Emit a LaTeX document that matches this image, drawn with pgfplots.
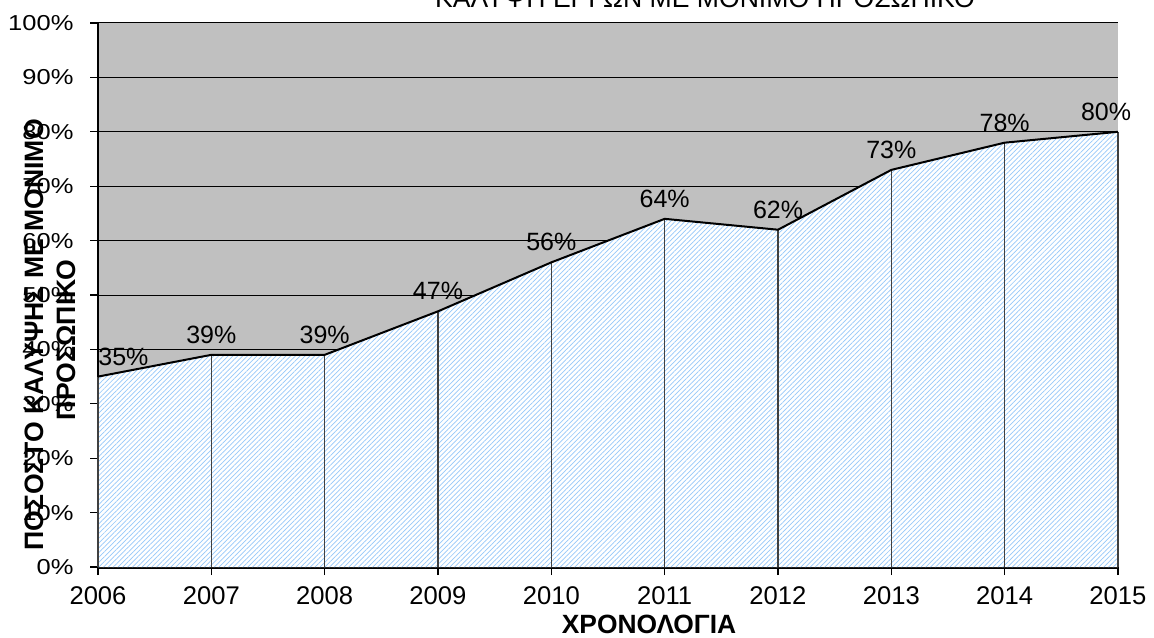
\documentclass[border=0pt]{standalone}
\usepackage{pgfplots}
\pgfplotsset{compat=1.18}
\usepackage{fontspec}
\setmainfont{Liberation Sans}
\usetikzlibrary{patterns.meta}
\definecolor{bggray}{RGB}{192,192,192}
\definecolor{hatch}{RGB}{150,200,250}
\begin{document}
\begin{tikzpicture}
\begin{axis}[
  name=ax, at={(0,0)}, anchor=south west,
  scale only axis, width=510pt, height=272pt,
  xmin=2006, xmax=2015, ymin=0, ymax=100,
  xtick={2006,...,2015}, ytick={0,10,...,100},
  /pgf/number format/assume math mode=true,
  /pgf/number format/1000 sep={},
  yticklabel={\pgfmathprintnumber{\tick}\%},
  xticklabel style={font=\fontsize{12.8}{14}\selectfont, yshift=-2.5pt},
  yticklabel style={font=\fontsize{10.8}{12}\selectfont, xscale=1.18, xshift=-3.5pt},
  tick align=outside, major tick length=4pt,
  tick style={black, line width=0.6pt},
  axis background/.style={fill=bggray},
  ymajorgrids, grid style={black, line width=0.5pt},
  axis x line*=bottom, axis y line*=left,
  x axis line style={line width=1.5pt, -},
  y axis line style={line width=0.8pt, -},
  clip=false,
]
\addplot[draw=none, fill=white, postaction={pattern={Lines[angle=45,distance=1.7pt,line width=0.35pt]}, pattern color=hatch}]
  coordinates {(2006,35) (2007,39) (2008,39) (2009,47) (2010,56) (2011,64) (2012,62) (2013,73) (2014,78) (2015,80)} \closedcycle;
\addplot[ycomb, draw=black!75, line width=0.6pt, mark=none]
  coordinates {(2006,35) (2007,39) (2008,39) (2009,47) (2010,56) (2011,64) (2012,62) (2013,73) (2014,78) (2015,80)};
\addplot[black, line width=1pt, mark=none]
  coordinates {(2006,35) (2007,39) (2008,39) (2009,47) (2010,56) (2011,64) (2012,62) (2013,73) (2014,78) (2015,80)};
\addplot[draw=none, mark=none,
  nodes near coords={\pgfmathprintnumber{\pgfplotspointmeta}\%},
  every node near coord/.append style={font=\fontsize{12.5}{14}\selectfont, anchor=south, inner sep=2pt, yshift=3.5pt, black},
  point meta=y]
  coordinates {(2007,39) (2008,39) (2009,47) (2010,56) (2011,64) (2012,62) (2013,73) (2014,78)};
\addplot[draw=none, mark=none,
  nodes near coords={\pgfmathprintnumber{\pgfplotspointmeta}\%},
  every node near coord/.append style={font=\fontsize{12.5}{14}\selectfont, anchor=south, inner sep=2pt, yshift=3.5pt, xshift=-6pt, black},
  point meta=y]
  coordinates {(2015,80)};
\addplot[draw=none, mark=none,
  nodes near coords={\pgfmathprintnumber{\pgfplotspointmeta}\%},
  every node near coord/.append style={font=\fontsize{12.5}{14}\selectfont, anchor=south west, inner sep=2pt, yshift=3pt, xshift=-2pt, black},
  point meta=y]
  coordinates {(2006,35)};
\end{axis}
\node[anchor=base, font=\fontsize{13.3}{15}\selectfont] at (303.5pt,279.5pt) {ΚΑΛΥΨΗ ΕΡΓΩΝ ΜΕ ΜΟΝΙΜΟ ΠΡΟΣΩΠΙΚΟ};
\node[rotate=90, font=\bfseries\fontsize{13.3}{15}\selectfont] at (-32pt,116pt) {ΠΟΣΟΣΤΟ ΚΑΛΥΨΗΣ ΜΕ ΜΟΝΙΜΟ};
\node[rotate=90, font=\bfseries\fontsize{13.3}{15}\selectfont] at (-16pt,113.5pt) {ΠΡΟΣΩΠΙΚΟ};
\node[font=\bfseries\fontsize{13.2}{15}\selectfont] at (275.5pt,-28.5pt) {ΧΡΟΝΟΛΟΓΙΑ};
\pgfresetboundingbox
\path[use as bounding box] (-49pt,-35pt) rectangle (528pt,283.5pt);
\end{tikzpicture}
\end{document}
